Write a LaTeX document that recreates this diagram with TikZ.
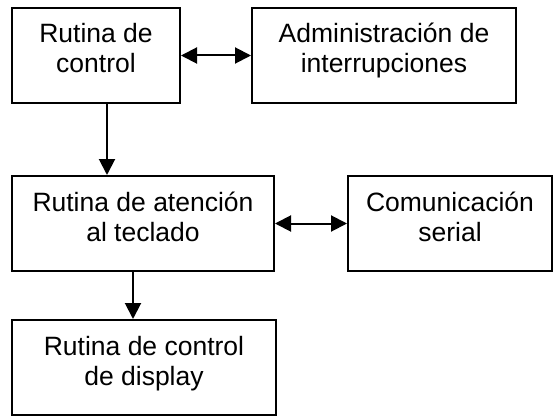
\documentclass[tikz,border=0pt]{standalone}
\usepackage{fontspec}
\setmainfont{Liberation Sans}
\usetikzlibrary{arrows.meta,calc}

\tikzset{
  caja/.style={draw, line width=2pt, align=center, inner sep=0pt,
    text height=35pt, text depth=0pt,
    minimum height=95pt, font=\fontsize{26.5}{30}\selectfont},
  flecha/.style={line width=2pt, -{Triangle[length=16pt,width=16pt]}},
  dflecha/.style={line width=2pt, {Triangle[length=16pt,width=16pt]}-{Triangle[length=16pt,width=16pt]}}
}

\begin{document}
\begin{tikzpicture}
  \useasboundingbox (0pt,0pt) rectangle (554pt,-417pt);
  \node[caja, minimum width=168pt] (ctrl) at (96pt,-55.5pt) {Rutina de\\control};
  \node[caja, minimum width=264pt] (inter) at (384pt,-55.5pt) {Administración de\\interrupciones};
  \node[caja, minimum width=262pt] (tecl) at (143pt,-223.5pt) {Rutina de atención\\al teclado};
  \node[caja, minimum width=204pt] (serial) at (450pt,-223.5pt) {Comunicación\\serial};
  \node[caja, minimum width=264pt] (disp) at (144pt,-367.5pt) {Rutina de control\\de display};

  \draw[dflecha] (ctrl.east) -- (inter.west);
  \draw[dflecha] (tecl.east) -- (serial.west);
  \draw[flecha] ([xshift=11pt]ctrl.south) -- ([xshift=11pt]ctrl.south |- tecl.north);
  \draw[flecha] ([xshift=-10pt]tecl.south) -- ([xshift=-10pt]tecl.south |- disp.north);
\end{tikzpicture}
\end{document}
